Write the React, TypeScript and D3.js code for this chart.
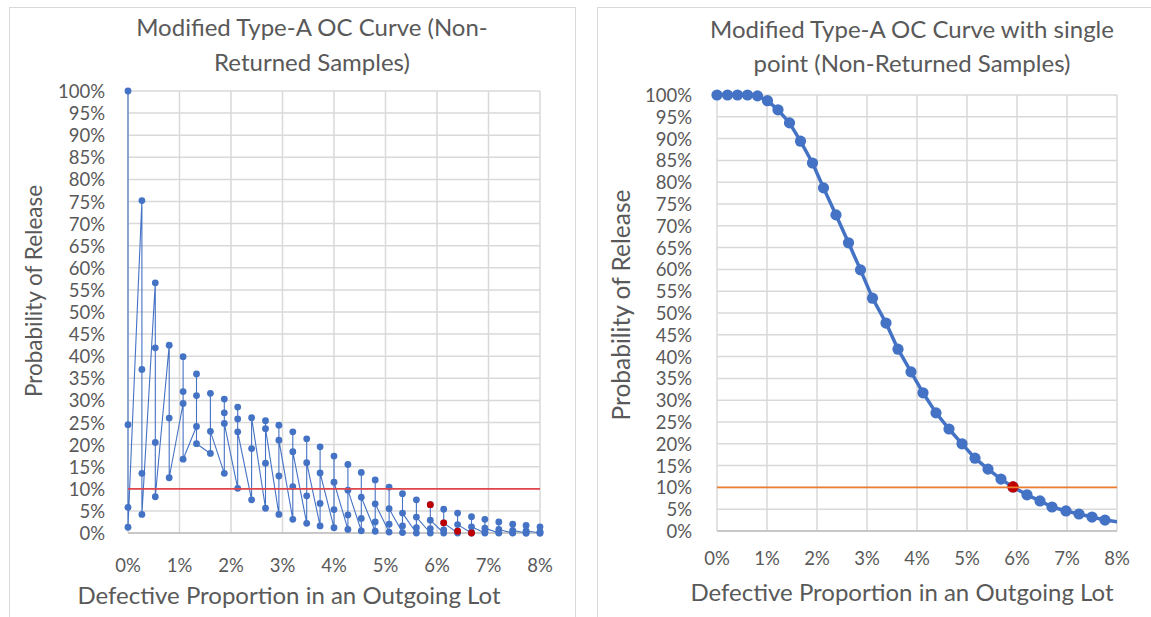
import * as d3 from 'd3';

const W = 1151;
const H = 617;
const FONT = 'Lato, "Open Sans", sans-serif';
const TEXT = '#595959';
const GRID = '#d9d9d9';
const BLUE = '#4472C4';
const RED = '#C00000';

const xTicks = [0, 1, 2, 3, 4, 5, 6, 7, 8];
const xTickLabels = ['0%', '1%', '2%', '3%', '4%', '5%', '6%', '7%', '8%'];
const yTicks = [0, 5, 10, 15, 20, 25, 30, 35, 40, 45, 50, 55, 60, 65, 70, 75, 80, 85, 90, 95, 100];
const yTickLabels = yTicks.map(t => `${t}%`);
const threshold = 10;

// left chart: one column of points per defective count, in the order they are joined
const leftX = [0, 0.27, 0.53, 0.8, 1.07, 1.33, 1.6, 1.87, 2.13, 2.4, 2.67, 2.93, 3.2, 3.47, 3.73,
  4.0, 4.27, 4.53, 4.8, 5.07, 5.33, 5.6, 5.87, 6.13, 6.4, 6.67, 6.93, 7.2, 7.47, 7.73, 8.0];
const leftCols = [
  [100, 24.5, 5.8, 1.3],
  [75.2, 37.0, 13.5, 4.2],
  [56.6, 41.9, 20.5, 8.2],
  [42.5, 26.0, 12.5],
  [29.3, 32.0, 39.9, 16.7],
  [24.1, 31.1, 36.0, 20.2],
  [18.0, 31.6, 23.0],
  [13.5, 30.3, 27.2, 24.8],
  [10.1, 28.5, 25.8, 22.9],
  [7.5, 19.1, 26.1],
  [5.6, 15.8, 25.4, 23.6],
  [4.2, 12.9, 24.4, 21.0],
  [3.1, 10.5, 22.9, 18.4],
  [2.2, 8.4, 21.3, 15.9],
  [1.6, 6.7, 19.5, 13.6],
  [1.2, 5.3, 17.4, 11.5],
  [0.8, 4.1, 15.5, 9.7],
  [0.5, 3.3, 13.7, 8.1],
  [0.4, 2.5, 12.0, 6.6],
  [0.2, 2.0, 10.4, 5.5],
  [0.1, 1.6, 8.9, 4.5],
  [0.0, 1.2, 7.5, 3.6],
  [0.0, 1.0, 6.4, 2.9],
  [0.0, 0.7, 5.4, 2.3],
  [0.0, 0.4, 4.5, 1.9],
  [0.0, 0.2, 3.7, 1.4],
  [0.0, 0.2, 3.1, 1.1],
  [0.0, 0.1, 2.5, 0.8],
  [0.0, 0.1, 2.0, 0.6],
  [0.0, 0.0, 1.7, 0.5],
  [0.0, 0.0, 1.4, 0.3],
];
const leftRedX = [5.87, 6.13, 6.4, 6.67];
const leftRedY = [6.4, 2.3, 0.4, 0.0];

// right chart: single curve
const rightX = [0, 0.21, 0.41, 0.61, 0.81, 1.01, 1.22, 1.45, 1.67, 1.91, 2.13, 2.38, 2.63, 2.87, 3.11,
  3.38, 3.62, 3.88, 4.12, 4.38, 4.64, 4.9, 5.16, 5.42, 5.68, 5.92, 6.2, 6.46, 6.7, 6.98, 7.24, 7.5, 7.76, 8.02];
const rightY = [100, 100, 100, 100, 99.8, 98.7, 96.6, 93.6, 89.4, 84.4, 78.7, 72.5, 66.1, 59.9, 53.4,
  47.7, 41.7, 36.5, 31.7, 27.1, 23.4, 20.0, 16.7, 14.2, 11.9, 10.1, 8.3, 6.9, 5.5, 4.6, 3.9, 3.2, 2.5, 2.1];
const rightRedX = [5.92];
const rightRedY = [10.1];

type P = [number, number];

function Panel(props: {
  id: string;
  x: d3.ScaleLinear<number, number>;
  y: d3.ScaleLinear<number, number>;
  title: string[];
  titleX: number;
  titleY: number[];
  yLabelX: number;
  xLabelY: number;
  xTitle: [number, number];
  yTitle: [number, number];
  yTitleSize: number;
  pts: P[];
  reds: P[];
  lineW: number;
  r: number;
  threshColor: string;
}) {
  const { id, x, y, pts, reds } = props;
  const [x0, x1] = x.range();
  const [y0, y1] = y.range();
  const line = d3.line<P>().x(d => x(d[0])).y(d => y(d[1]));
  const inside = (d: P) => d[0] <= 8;
  return (
    <g>
      <defs>
        <clipPath id={id}>
          <rect x={x0 - 2} y={y1 - 10} width={x1 - x0 + 2} height={y0 - y1 + 20} />
        </clipPath>
      </defs>
      {props.title.map((t, i) => (
        <text key={i} x={props.titleX} y={props.titleY[i]} textAnchor="middle" dominantBaseline="central"
          fontSize={24} fill={TEXT}>{t}</text>
      ))}
      {yTicks.map(t => (
        <line key={'h' + t} x1={x0} x2={x1} y1={y(t)} y2={y(t)} stroke={GRID} strokeWidth={1.5} />
      ))}
      {xTicks.map(t => (
        <line key={'v' + t} x1={x(t)} x2={x(t)} y1={y1} y2={y0} stroke={GRID} strokeWidth={1.5} />
      ))}
      <line x1={x0} x2={x1} y1={y0} y2={y0} stroke="#bfbfbf" strokeWidth={1.5} />
      {yTicks.map((t, i) => (
        <text key={'yl' + t} x={props.yLabelX} y={y(t)} textAnchor="end" dominantBaseline="central"
          fontSize={18.5} fill={TEXT}>{yTickLabels[i]}</text>
      ))}
      {xTicks.map((t, i) => (
        <text key={'xl' + t} x={x(t)} y={props.xLabelY} textAnchor="middle" dominantBaseline="central"
          fontSize={18.5} fill={TEXT}>{xTickLabels[i]}</text>
      ))}
      <text x={props.xTitle[0]} y={props.xTitle[1]} textAnchor="middle" dominantBaseline="central"
        fontSize={24} fill={TEXT}>Defective Proportion in an Outgoing Lot</text>
      <text transform={`translate(${props.yTitle[0]},${props.yTitle[1]}) rotate(-90)`} textAnchor="middle"
        dominantBaseline="central" fontSize={props.yTitleSize} fill={TEXT}>Probability of Release</text>
      <path d={line(pts) ?? ''} fill="none" stroke={BLUE} strokeWidth={props.lineW} strokeLinejoin="round"
        clipPath={`url(#${id})`} />
      {pts.filter(inside).map((d, i) => (
        <circle key={'m' + i} cx={x(d[0])} cy={y(d[1])} r={props.r} fill={BLUE} />
      ))}
      {reds.map((d, i) => (
        <circle key={'r' + i} cx={x(d[0])} cy={y(d[1])} r={props.r} fill={RED} />
      ))}
      <line x1={x0} x2={x1} y1={y(threshold)} y2={y(threshold)} stroke={props.threshColor} strokeWidth={1.8} />
    </g>
  );
}

export default function App() {
  const xL = d3.scaleLinear().domain([0, 8]).range([128, 540]);
  const yL = d3.scaleLinear().domain([0, 100]).range([533, 91]);
  const xR = d3.scaleLinear().domain([0, 8]).range([717, 1117]);
  const yR = d3.scaleLinear().domain([0, 100]).range([531, 95]);

  const leftPts: P[] = leftCols.flatMap((col, i) => col.map(v => [leftX[i], v] as P));
  const leftReds: P[] = leftRedX.map((v, i) => [v, leftRedY[i]]);
  const rightPts: P[] = rightX.map((v, i) => [v, rightY[i]]);
  const rightReds: P[] = rightRedX.map((v, i) => [v, rightRedY[i]]);

  return (
    <svg width={W} height={H} style={{ position: 'absolute', left: 0, top: 0, background: '#fff' }}
      fontFamily={FONT}>
      <rect x={9.5} y={7.5} width={566} height={640} fill="#fff" stroke={GRID} />
      <rect x={597.5} y={7.5} width={580} height={640} fill="#fff" stroke={GRID} />
      <Panel id="clipL" x={xL} y={yL} title={['Modified Type-A OC Curve (Non-', 'Returned Samples)']}
        titleX={312} titleY={[26, 61]} yLabelX={105} xLabelY={565} xTitle={[289, 594]} yTitle={[33, 291]}
        yTitleSize={22.5} pts={leftPts} reds={leftReds} lineW={1.1} r={3.4} threshColor="#E0474C" />
      <Panel id="clipR" x={xR} y={yR} title={['Modified Type-A OC Curve with single', 'point (Non-Returned Samples)']}
        titleX={912} titleY={[28, 62]} yLabelX={692} xLabelY={558} xTitle={[902, 591]} yTitle={[620, 305]}
        yTitleSize={24.5} pts={rightPts} reds={rightReds} lineW={3.5} r={5.6} threshColor="#ED7D31" />
    </svg>
  );
}
